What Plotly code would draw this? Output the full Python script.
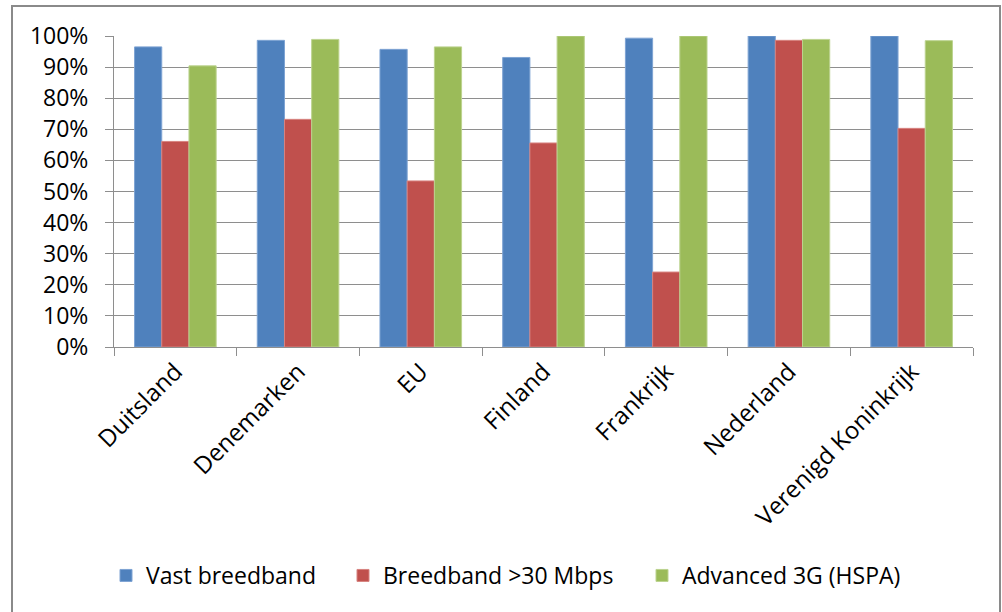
import plotly.graph_objects as go

# Broadband coverage per country (share of households)
countries = ["Duitsland", "Denemarken", "EU", "Finland", "Frankrijk", "Nederland", "Verenigd Koninkrijk"]
vast_breedband = [0.965, 0.986, 0.957, 0.931, 0.993, 1.000, 1.000]
breedband_30 = [0.661, 0.732, 0.534, 0.656, 0.241, 0.986, 0.703]
advanced_3g = [0.904, 0.989, 0.965, 1.000, 1.000, 0.989, 0.985]

series = [
    ("Vast breedband", vast_breedband, "#4F81BD", "#7EA3D3"),
    ("Breedband >30 Mbps", breedband_30, "#C0504D", "#D78380"),
    ("Advanced 3G (HSPA)", advanced_3g, "#9BBB59", "#BCD38F"),
]

FONT = "Open Sans"

W, H = 1002, 612
L, R, T, B = 114, 29, 36, 265
pw, ph = W - L - R, H - T - B

def px_x(p):
    return (p - L) / pw

def px_y(p):
    return (H - B - p) / ph

# one legend box per series so each entry sits at its own spot
legend_ids = ["legend", "legend2", "legend3"]
legend_left = [106, 343, 642]

fig = go.Figure()
for (name, vals, color, edge), lid in zip(series, legend_ids):
    fig.add_trace(go.Bar(
        x=countries, y=vals, name=name, legend=lid,
        marker=dict(color=color, line=dict(color=edge, width=1)),
    ))

legend_layout = {}
for lid, left in zip(legend_ids, legend_left):
    legend_layout[lid] = dict(
        orientation="h", x=px_x(left), xanchor="left",
        y=px_y(554), yanchor="top",
        font=dict(family=FONT, size=23, color="#000000"),
        bgcolor="rgba(0,0,0,0)",
    )

fig.update_layout(
    width=W, height=H,
    margin=dict(l=L, r=R, t=T, b=B),
    paper_bgcolor="white", plot_bgcolor="white",
    barmode="group", bargap=0.335, bargroupgap=0,
    font=dict(family=FONT, color="#000000", size=23),
    showlegend=True,
    shapes=[dict(
        type="rect", xref="paper", yref="paper",
        x0=px_x(12), x1=px_x(1000), y0=px_y(640), y1=px_y(6),
        line=dict(color="#8A8A8A", width=2), layer="below",
    )],
    **legend_layout,
)

fig.update_yaxes(
    range=[0, 1], dtick=0.1, tickformat=".0%",
    showgrid=True, gridcolor="#8E8E8E", gridwidth=1,
    showline=True, linecolor="#8E8E8E", linewidth=1,
    ticks="outside", ticklen=8, tickcolor="#8E8E8E",
    ticklabelstandoff=12, zeroline=False,
    tickfont=dict(family=FONT, size=23, color="#000000"),
)
fig.update_xaxes(
    showline=True, linecolor="#8E8E8E", linewidth=1,
    ticks="outside", ticklen=8, tickcolor="#8E8E8E", tickson="boundaries",
    tickangle=-45, showgrid=False,
    tickfont=dict(family=FONT, size=24, color="#000000"),
)

fig.write_html("out.html")
